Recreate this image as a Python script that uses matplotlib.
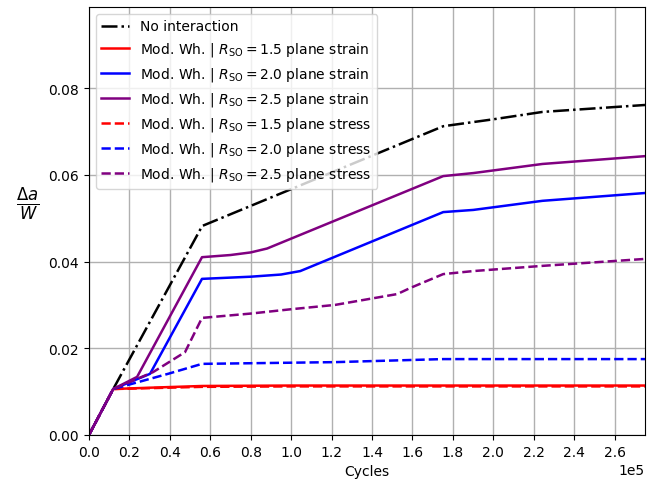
import matplotlib
matplotlib.use("Agg")
import matplotlib.pyplot as plt
import numpy as np

# data
x_noint = [0, 12000, 56000, 175200, 200000, 224300, 275000]
y_noint = [0, 0.0106, 0.0482, 0.0712, 0.0728, 0.0745, 0.0761]

x_r15_strain = [0, 12000, 30000, 56000, 100000, 175000, 275000]
y_r15_strain = [0, 0.0106, 0.0109, 0.0113, 0.0114, 0.0114, 0.0114]
x_r20_strain = [0, 12000, 30200, 55900, 80000, 95000, 104500, 175200, 190100, 224300, 275000]
y_r20_strain = [0, 0.0106, 0.0141, 0.0360, 0.0365, 0.0370, 0.0378, 0.0514, 0.0519, 0.0540, 0.0558]
x_r25_strain = [0, 12000, 23800, 55900, 70000, 80000, 88100, 175200, 190100, 224300, 275000]
y_r25_strain = [0, 0.0106, 0.0134, 0.0410, 0.0415, 0.0421, 0.0430, 0.0597, 0.0604, 0.0625, 0.0643]

x_r15_stress = [0, 12000, 30000, 56000, 100000, 175000, 275000]
y_r15_stress = [0, 0.0106, 0.0108, 0.0111, 0.0112, 0.0112, 0.0112]
x_r20_stress = [0, 12000, 39100, 55900, 121800, 175200, 275000]
y_r20_stress = [0, 0.0106, 0.0141, 0.0164, 0.0168, 0.0175, 0.0175]
x_r25_stress = [0, 12000, 31700, 47500, 55900, 80000, 100000, 121800, 152500, 158900, 175200, 190100, 224300, 275000]
y_r25_stress = [0, 0.0106, 0.0145, 0.0191, 0.0270, 0.0280, 0.0290, 0.0300, 0.0325, 0.0339, 0.0371, 0.0378, 0.0390, 0.0406]

fig = plt.figure(figsize=(6.61, 4.81), dpi=100)
ax = fig.add_axes([0.1346, 0.0936, 0.8412, 0.8898])

lab = r'Mod. Wh. | $R_{\mathrm{SO}} = %s$ plane %s'
ax.plot(x_noint, y_noint, 'k-.', lw=1.8, label='No interaction')
ax.plot(x_r15_strain, y_r15_strain, color='red', ls='-', lw=1.8, label=lab % ('1.5', 'strain'))
ax.plot(x_r20_strain, y_r20_strain, color='blue', ls='-', lw=1.8, label=lab % ('2.0', 'strain'))
ax.plot(x_r25_strain, y_r25_strain, color='purple', ls='-', lw=1.8, label=lab % ('2.5', 'strain'))
ax.plot(x_r15_stress, y_r15_stress, color='red', ls='--', lw=1.8, label=lab % ('1.5', 'stress'))
ax.plot(x_r20_stress, y_r20_stress, color='blue', ls='--', lw=1.8, label=lab % ('2.0', 'stress'))
ax.plot(x_r25_stress, y_r25_stress, color='purple', ls='--', lw=1.8, label=lab % ('2.5', 'stress'))

ax.set_xlim(0, 2.75e5)
ax.set_ylim(0, 0.0987)
ax.set_xticks(np.arange(0, 2.7e5, 0.2e5))
ax.set_yticks([0, 0.02, 0.04, 0.06, 0.08])
ax.ticklabel_format(style='sci', axis='x', scilimits=(0, 0))
ax.grid(True, color='#b0b0b0', lw=1)
ax.set_xlabel('Cycles')
ax.set_ylabel(r'$\frac{\Delta a}{W}$', rotation=0, fontsize=17)
ax.yaxis.set_label_coords(-0.11, 0.498)
ax.legend(loc='upper left', fontsize=10)

fig.savefig('out.png', dpi=100)
